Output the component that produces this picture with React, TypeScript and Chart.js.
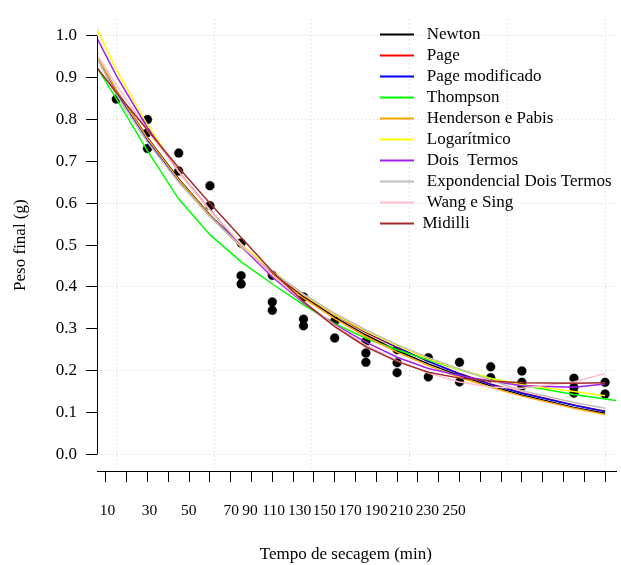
import React, { useEffect, useRef } from 'react';
import { Chart, registerables } from 'chart.js';

Chart.register(...registerables);

// ---- data ----
const timeGrid = [0, 15, 30, 45, 60, 75, 90, 105, 120, 135, 150, 165, 180, 195, 210, 235, 250];
const thompsonTime = [0, 15, 30, 45, 60, 75, 90, 105, 120, 135, 150, 165, 180, 195, 210, 235, 250, 265];

const newton = [1.0, 0.870, 0.757, 0.658, 0.572, 0.498, 0.433, 0.377, 0.328, 0.285, 0.248, 0.216, 0.188, 0.163, 0.142, 0.112, 0.098];
const page = [1.0, 0.866, 0.751, 0.654, 0.570, 0.497, 0.435, 0.380, 0.333, 0.291, 0.255, 0.222, 0.193, 0.168, 0.147, 0.118, 0.103];
const pageModificado = [1.0, 0.864, 0.749, 0.653, 0.570, 0.498, 0.436, 0.382, 0.335, 0.293, 0.256, 0.222, 0.192, 0.167, 0.146, 0.117, 0.102];
const thompson = [0.97, 0.85, 0.725, 0.61, 0.525, 0.46, 0.407, 0.357, 0.312, 0.277, 0.25, 0.225, 0.202, 0.182, 0.165, 0.143, 0.132, 0.122];
const hendersonPabis = [1.002, 0.870, 0.755, 0.656, 0.570, 0.495, 0.430, 0.373, 0.324, 0.281, 0.244, 0.212, 0.184, 0.160, 0.139, 0.110, 0.095];
const logaritmico = [1.076, 0.919, 0.787, 0.676, 0.582, 0.503, 0.437, 0.381, 0.334, 0.294, 0.259, 0.228, 0.202, 0.181, 0.166, 0.150, 0.140];
const doisTermos = [1.05, 0.905, 0.78, 0.675, 0.585, 0.497, 0.424, 0.362, 0.31, 0.268, 0.232, 0.205, 0.188, 0.175, 0.164, 0.160, 0.168];
const expDoisTermos = [1.0, 0.86, 0.746, 0.65, 0.568, 0.497, 0.436, 0.383, 0.337, 0.297, 0.262, 0.231, 0.204, 0.177, 0.152, 0.124, 0.110];
const wangSing = [1.0, 0.883, 0.774, 0.675, 0.584, 0.502, 0.428, 0.364, 0.308, 0.261, 0.223, 0.194, 0.173, 0.161, 0.158, 0.173, 0.193];
const midilli = [0.96, 0.865, 0.775, 0.685, 0.6, 0.518, 0.437, 0.365, 0.305, 0.257, 0.222, 0.196, 0.182, 0.175, 0.171, 0.170, 0.171];

const obsTime = [15, 30, 30, 30, 45, 45, 60, 60, 75, 75, 75, 90, 90, 90, 105, 105, 105, 120, 120, 135, 135, 135, 150, 150, 150, 165, 165, 180, 180, 195, 195, 210, 210, 210, 235, 235, 235, 250, 250];
const obsWeight = [0.849, 0.80, 0.769, 0.731, 0.72, 0.677, 0.642, 0.594, 0.505, 0.427, 0.407, 0.428, 0.364, 0.344, 0.376, 0.323, 0.307, 0.318, 0.278, 0.27, 0.242, 0.22, 0.25, 0.219, 0.195, 0.231, 0.185, 0.22, 0.173, 0.209, 0.183, 0.199, 0.172, 0.163, 0.182, 0.16, 0.146, 0.172, 0.144];

const seriesLabels = [' Newton', ' Page', ' Page modificado', ' Thompson', ' Henderson e Pabis', ' Logarítmico', ' Dois  Termos', ' Expondencial Dois Termos', ' Wang e Sing', 'Midilli'];
const seriesColors = ['#000000', '#FF0000', '#0000FF', '#00FF00', '#FFA500', '#FFFF00', '#A020F0', '#BEBEBE', '#FFC0CB', '#A52A2A'];
const seriesValues = [newton, page, pageModificado, thompson, hendersonPabis, logaritmico, doisTermos, expDoisTermos, wangSing, midilli];
const seriesTimes = [timeGrid, timeGrid, timeGrid, thompsonTime, timeGrid, timeGrid, timeGrid, timeGrid, timeGrid, timeGrid];

const xMin = 5.714;
const xMax = 255.24;
const xTickMarks = [10, 20, 30, 40, 50, 60, 70, 80, 90, 100, 110, 120, 130, 140, 150, 160, 170, 180, 190, 200, 210, 220, 230, 240, 250];
const xLabelText = ['10', '30', '50', '70', '90', '110', '130', '150', '170', '190', '210', '230', '250'];
const xLabelAt = [10.8, 31, 49.8, 70.3, 79.3, 90.6, 103.1, 115, 127.4, 140, 152.1, 164.5, 177.4];
const xGridAt = [15, 62, 109, 156, 203, 250];
const yTicks = [0, 0.1, 0.2, 0.3, 0.4, 0.5, 0.6, 0.7, 0.8, 0.9, 1.0];

const FONT = "'Liberation Serif', 'Times New Roman', serif";
const GRID = '#d3d3d3';

export default function App() {
  const ref = useRef<HTMLCanvasElement | null>(null);

  useEffect(() => {
    const canvas = ref.current;
    if (!canvas) return;

    const lineSets = seriesLabels.map((label, k) => ({
      type: 'line' as const,
      label,
      data: seriesTimes[k].map((t, i) => ({ x: t, y: seriesValues[k][i] })),
      borderColor: seriesColors[k],
      backgroundColor: seriesColors[k],
      borderWidth: 1.5,
      pointRadius: 0,
      fill: false,
      tension: 0,
      xAxisID: 'x',
      yAxisID: 'y',
    })).reverse();

    const obsSet = {
      type: 'line' as const,
      label: 'obs',
      data: obsTime.map((t, i) => ({ x: t, y: obsWeight[i] })),
      showLine: false,
      pointRadius: 4.5,
      pointBackgroundColor: '#000000',
      pointBorderColor: 'rgba(0,0,0,0.5)',
      pointBorderWidth: 0.5,
      borderColor: '#000000',
      backgroundColor: '#000000',
      xAxisID: 'x',
      yAxisID: 'y',
    };

    const rPlugin = {
      id: 'rstyle',
      afterLayout(chart: any) {
        const lg = chart.legend;
        if (lg) {
          lg.left = 376;
          lg.top = 22;
        }
      },
      afterDraw(chart: any) {
        const y = chart.scales.y;
        const ctx = chart.ctx;
        const x0 = Math.round(chart.chartArea.left) + 0.5;
        ctx.save();
        ctx.strokeStyle = '#000000';
        ctx.lineWidth = 1;
        ctx.beginPath();
        ctx.moveTo(x0, y.getPixelForValue(1));
        ctx.lineTo(x0, y.getPixelForValue(0));
        ctx.stroke();
        ctx.restore();
      },
    };

    const chart = new Chart(canvas, {
      type: 'line',
      data: { datasets: [...lineSets, obsSet] as any },
      plugins: [rPlugin],
      options: {
        responsive: false,
        animation: false,
        devicePixelRatio: 1,
        events: [],
        layout: { padding: { top: 13, left: 0, right: 0, bottom: 0 } },
        plugins: {
          tooltip: { enabled: false },
          legend: {
            display: true,
            position: 'chartArea' as any,
            align: 'start',
            reverse: true,
            labels: {
              usePointStyle: true,
              pointStyle: 'line',
              pointStyleWidth: 34,
              padding: 4,
              color: '#000000',
              font: { family: FONT, size: 17 },
              filter: (item: any) => item.text !== 'obs',
              generateLabels: (ch: any) =>
                (Chart.defaults.plugins.legend.labels.generateLabels as any)(ch).map((it: any) => ({ ...it, lineWidth: 2 })),
            },
          },
        },
        scales: {
          x: {
            type: 'linear',
            axis: 'x',
            position: 'bottom',
            min: xMin,
            max: xMax,
            weight: 1,
            afterBuildTicks: (s: any) => { s.ticks = xTickMarks.map((v) => ({ value: v })); },
            afterFit: (s: any) => { s.height = 11; },
            ticks: { display: false },
            grid: { display: true, drawOnChartArea: false, drawTicks: true, tickLength: 11, tickColor: '#000000', tickWidth: 1 },
            border: { display: true, color: '#000000', width: 1 },
          },
          xg: {
            type: 'linear',
            axis: 'x',
            position: 'bottom',
            min: xMin,
            max: xMax,
            weight: 0,
            afterBuildTicks: (s: any) => { s.ticks = xGridAt.map((v) => ({ value: v })); },
            afterFit: (s: any) => { s.height = 0; },
            ticks: { display: false },
            grid: { display: true, drawOnChartArea: true, drawTicks: false, color: GRID, lineWidth: 1 },
            border: { display: false, dash: [1, 3] },
          },
          xl: {
            type: 'linear',
            axis: 'x',
            position: 'bottom',
            min: xMin,
            max: xMax,
            weight: 2,
            afterBuildTicks: (s: any) => { s.ticks = xLabelAt.map((v) => ({ value: v })); },
            afterFit: (s: any) => { s.height = 83; },
            ticks: {
              autoSkip: false,
              maxRotation: 0,
              minRotation: 0,
              padding: 20,
              color: '#000000',
              font: { family: FONT, size: 15.5 },
              callback: (_v: any, i: number) => xLabelText[i],
            },
            grid: { display: false, drawTicks: false },
            border: { display: false },
            title: {
              display: true,
              text: 'Tempo de secagem (min)     ',
              color: '#000000',
              font: { family: FONT, size: 17 },
              padding: { top: 0, bottom: 0 },
            },
          },
          y: {
            type: 'linear',
            position: 'left',
            min: -0.04,
            max: 1.04,
            afterBuildTicks: (s: any) => { s.ticks = yTicks.map((v) => ({ value: v })); },
            afterFit: (s: any) => { s.width = 97; },
            ticks: {
              color: '#000000',
              padding: 9,
              font: { family: FONT, size: 17 },
              callback: (v: any) => Number(v).toFixed(1),
            },
            grid: {
              display: true,
              drawOnChartArea: true,
              drawTicks: true,
              tickLength: 11,
              tickColor: '#000000',
              tickWidth: 1,
              lineWidth: 1,
              color: (c: any) => {
                const v = c.tick ? Math.round(c.tick.value * 10) : 1;
                return v % 2 === 0 ? GRID : 'rgba(0,0,0,0)';
              },
            },
            border: { display: false, dash: [1, 3] },
            title: {
              display: true,
              text: 'Peso final (g)',
              color: '#000000',
              font: { family: FONT, size: 17 },
              padding: { top: 10, bottom: 0 },
            },
          },
        } as any,
      },
    });

    return () => chart.destroy();
  }, []);

  return (
    <div style={{ position: 'absolute', left: 0, top: 0, width: 621, height: 565, background: '#ffffff' }}>
      <canvas ref={ref} width={621} height={565} style={{ display: 'block', width: 621, height: 565 }} />
    </div>
  );
}
